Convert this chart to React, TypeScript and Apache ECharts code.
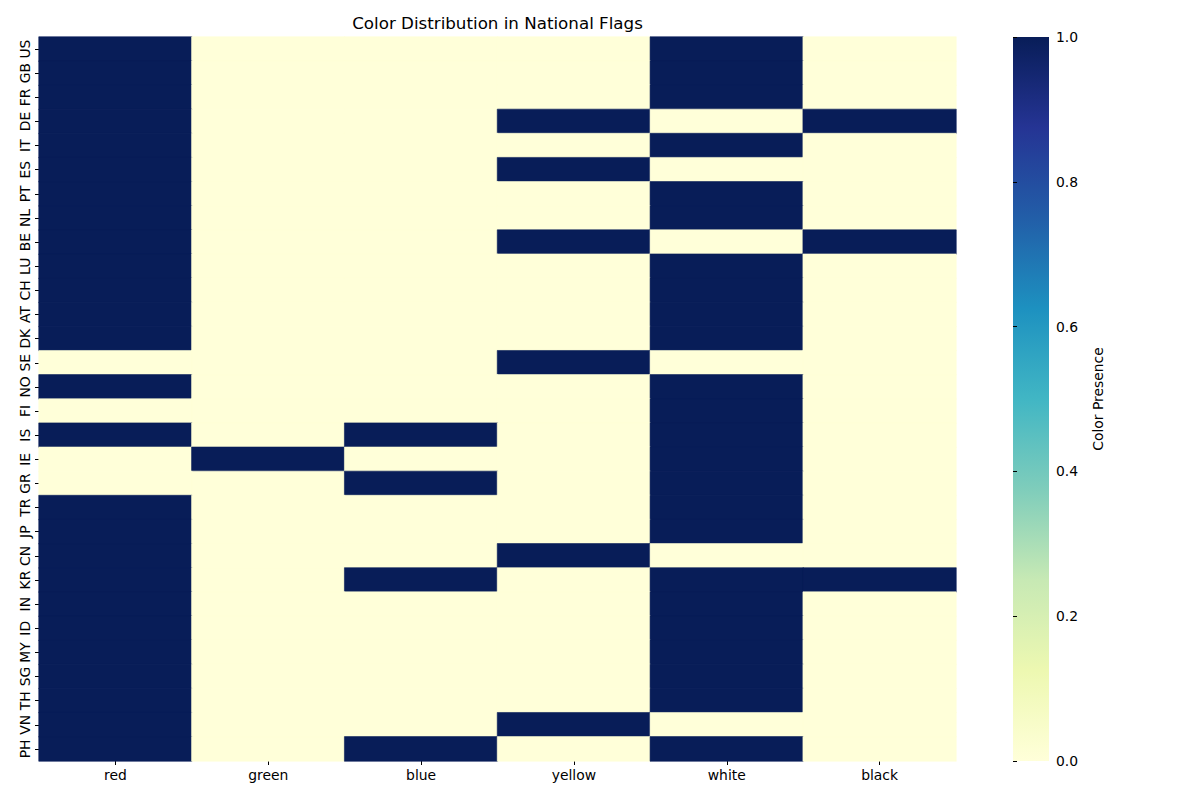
import React, { useEffect, useRef } from "react";
import * as echarts from "echarts";

const colorNames = ["red", "green", "blue", "yellow", "white", "black"];
const countries = [
  "US", "GB", "FR", "DE", "IT", "ES", "PT", "NL", "BE", "LU",
  "CH", "AT", "DK", "SE", "NO", "FI", "IS", "IE", "GR", "TR",
  "JP", "CN", "KR", "IN", "ID", "MY", "SG", "TH", "VN", "PH",
];
// rows: red, green, blue, yellow, white, black
const presence: number[][] = [
  [1, 0, 0, 0, 1, 0], // US
  [1, 0, 0, 0, 1, 0], // GB
  [1, 0, 0, 0, 1, 0], // FR
  [1, 0, 0, 1, 0, 1], // DE
  [1, 0, 0, 0, 1, 0], // IT
  [1, 0, 0, 1, 0, 0], // ES
  [1, 0, 0, 0, 1, 0], // PT
  [1, 0, 0, 0, 1, 0], // NL
  [1, 0, 0, 1, 0, 1], // BE
  [1, 0, 0, 0, 1, 0], // LU
  [1, 0, 0, 0, 1, 0], // CH
  [1, 0, 0, 0, 1, 0], // AT
  [1, 0, 0, 0, 1, 0], // DK
  [0, 0, 0, 1, 0, 0], // SE
  [1, 0, 0, 0, 1, 0], // NO
  [0, 0, 0, 0, 1, 0], // FI
  [1, 0, 1, 0, 1, 0], // IS
  [0, 1, 0, 0, 1, 0], // IE
  [0, 0, 1, 0, 1, 0], // GR
  [1, 0, 0, 0, 1, 0], // TR
  [1, 0, 0, 0, 1, 0], // JP
  [1, 0, 0, 1, 0, 0], // CN
  [1, 0, 1, 0, 1, 1], // KR
  [1, 0, 0, 0, 1, 0], // IN
  [1, 0, 0, 0, 1, 0], // ID
  [1, 0, 0, 0, 1, 0], // MY
  [1, 0, 0, 0, 1, 0], // SG
  [1, 0, 0, 0, 1, 0], // TH
  [1, 0, 0, 1, 0, 0], // VN
  [1, 0, 1, 0, 1, 0], // PH
];
const ylgnbu = [
  "#ffffd9", "#edf8b1", "#c7e9b4", "#7fcdbb", "#41b6c4",
  "#1d91c0", "#225ea8", "#253494", "#081d58",
];

const FONT = "DejaVu Sans";

export default function App() {
  const ref = useRef<HTMLDivElement>(null);
  useEffect(() => {
    if (!ref.current) return;
    const chart = echarts.init(ref.current, null, { renderer: "svg" });
    const data: any[] = [];
    presence.forEach((row, yi) =>
      row.forEach((v, xi) =>
        data.push({
          value: [xi, yi, v],
          itemStyle: {
            borderColor: v >= 0.5 ? ylgnbu[ylgnbu.length - 1] : ylgnbu[0],
            borderWidth: 0.6,
          },
        })
      )
    );
    const L = 39, T = 37, W = 917, H = 724;
    const CBL = 1013, CBW = 36;
    chart.setOption({
      animation: false,
      backgroundColor: "#ffffff",
      textStyle: { fontFamily: FONT },
      title: {
        text: "Color Distribution in National Flags",
        left: L + W / 2 - 5,
        textAlign: "center",
        top: 9,
        textStyle: { fontFamily: FONT, fontSize: 16.7, fontWeight: "normal", color: "#000" },
      },
      grid: [
        { left: L, top: T, width: W, height: H },
        { left: CBL, top: T, width: CBW, height: H },
      ],
      xAxis: [
        {
          type: "category",
          gridIndex: 0,
          data: colorNames,
          axisLine: { show: false },
          axisTick: { show: true, alignWithLabel: true, length: 4, lineStyle: { color: "#000" } },
          axisLabel: { color: "#000", fontSize: 13.9, margin: 7, fontFamily: FONT, interval: 0 },
          splitLine: { show: false },
        },
        {
          type: "value",
          gridIndex: 1,
          show: false,
          min: 0,
          max: 1,
        },
      ],
      yAxis: [
        {
          type: "category",
          gridIndex: 0,
          data: countries,
          inverse: true,
          axisLine: { show: false },
          axisTick: { show: true, alignWithLabel: true, length: 4, interval: 0, lineStyle: { color: "#000" } },
          axisLabel: { color: "#000", fontSize: 13.9, margin: 7, rotate: 90, fontFamily: FONT, interval: 0 },
          splitLine: { show: false },
        },
        {
          type: "value",
          gridIndex: 1,
          position: "right",
          min: 0,
          max: 1,
          interval: 0.2,
          axisLine: { show: false },
          axisTick: { show: true, inside: false, length: 4, lineStyle: { color: "#000" } },
          axisLabel: {
            color: "#000",
            fontSize: 13.9,
            margin: 7,
            fontFamily: FONT,
            formatter: (v: number) => v.toFixed(1),
          },
          splitLine: { show: false },
          name: "Color Presence",
          nameLocation: "middle",
          nameRotate: 90,
          nameGap: 42,
          nameTextStyle: { color: "#000", fontSize: 13.9, fontFamily: FONT },
        },
      ],
      visualMap: {
        show: false,
        min: 0,
        max: 1,
        seriesIndex: 0,
        inRange: { color: ylgnbu },
      },
      graphic: [
        {
          type: "rect",
          left: CBL,
          top: T,
          z: -1,
          shape: { width: CBW, height: H },
          style: {
            fill: new echarts.graphic.LinearGradient(
              0, 1, 0, 0,
              ylgnbu.map((c, i) => ({ offset: i / (ylgnbu.length - 1), color: c }))
            ),
          },
        },
      ],
      series: [
        {
          type: "heatmap",
          xAxisIndex: 0,
          yAxisIndex: 0,
          data,
          emphasis: { disabled: true },
        },
      ],
    });
    return () => chart.dispose();
  }, []);
  return (
    <div
      ref={ref}
      style={{ position: "absolute", left: 0, top: 0, width: 1200, height: 800 }}
    />
  );
}
